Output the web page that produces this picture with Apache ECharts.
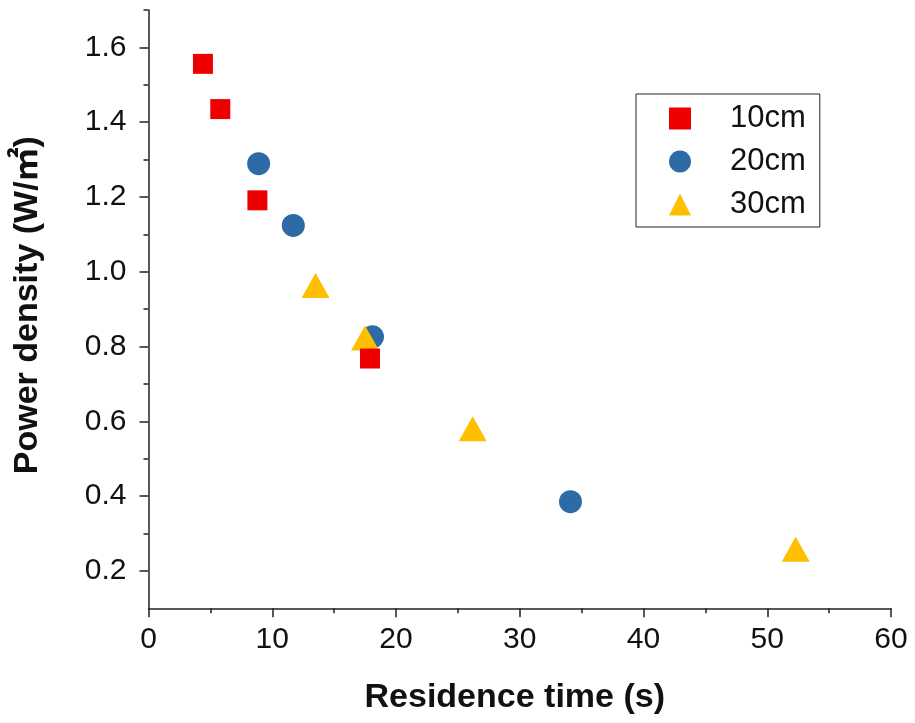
<!DOCTYPE html>
<html>
<head>
<meta charset="utf-8">
<script src="https://cdn.jsdelivr.net/npm/echarts@6/dist/echarts.min.js"></script>
<style>
  html, body { margin: 0; padding: 0; background: #fff; }
  #chart { width: 915px; height: 723px; }
</style>
</head>
<body>
<div id="chart"></div>
<script>
// Residence time (s) and power density (W/㎡) for three distances
const seriesNames = ['10cm', '20cm', '30cm'];

const time10 = [4.4, 5.8, 8.8, 17.9];
const power10 = [1.556, 1.435, 1.191, 0.768];

const time20 = [8.9, 11.7, 18.1, 34.1];
const power20 = [1.289, 1.124, 0.826, 0.385];

const time30 = [13.5, 17.5, 26.2, 52.3];
const power30 = [0.963, 0.823, 0.580, 0.258];

const xTicks = [0, 10, 20, 30, 40, 50, 60];
const yMajorTicks = [0.2, 0.4, 0.6, 0.8, 1.0, 1.2, 1.4, 1.6];
const yMinorTicks = [0.3, 0.5, 0.7, 0.9, 1.1, 1.3, 1.5, 1.7];

const colors = { red: '#ee0000', blue: '#2e6aa6', gold: '#ffbf00' };
const font = '"Liberation Sans", Arial, "Noto Sans CJK SC", sans-serif';
const axisColor = '#222';

function pairs(xs, ys) { return xs.map((x, i) => [x, ys[i]]); }

const chart = echarts.init(document.getElementById('chart'));
chart.setOption({
  backgroundColor: '#fff',
  animation: false,
  grid: { left: 148.5, right: 24, top: 10, bottom: 114.7 },
  legend: {
    orient: 'vertical',
    left: 636, top: 94,
    padding: [9, 14, 7, 33],
    itemGap: 12,
    itemWidth: 22, itemHeight: 22,
    borderColor: axisColor, borderWidth: 1,
    data: [
      { name: seriesNames[0], icon: 'rect' },
      { name: seriesNames[1], icon: 'circle' },
      { name: seriesNames[2], icon: 'triangle' }
    ],
    textStyle: { fontFamily: font, fontSize: 31, color: '#111', lineHeight: 30, padding: [0, 0, 0, 34] }
  },
  xAxis: {
    type: 'value',
    min: xTicks[0], max: xTicks[xTicks.length - 1], interval: 10,
    name: 'Residence time (s)',
    nameLocation: 'middle', nameGap: 72,
    nameTextStyle: { fontFamily: font, fontSize: 34, fontWeight: 'bold', color: '#111', padding: [0, 10, 0, 0] },
    axisLine: { show: true, lineStyle: { color: axisColor, width: 1.5 } },
    axisTick: { show: true, length: 9, lineStyle: { color: axisColor, width: 1.5 } },
    minorTick: { show: true, splitNumber: 2, length: 5, lineStyle: { color: axisColor, width: 1.5 } },
    splitLine: { show: false },
    axisLabel: { fontFamily: font, fontSize: 30, color: '#111', margin: 16 }
  },
  yAxis: [
    {
      type: 'value',
      min: 0.1, max: 1.7,
      name: 'Power density (W/㎡)',
      nameLocation: 'middle', nameGap: 104,
      nameTextStyle: { fontFamily: font, fontSize: 34, fontWeight: 'bold', color: '#111', padding: [0, 0, 0, 8] },
      axisLine: { show: true, onZero: false, lineStyle: { color: axisColor, width: 1.5 } },
      axisTick: { show: true, length: 9, customValues: yMajorTicks, lineStyle: { color: axisColor, width: 1.5 } },
      splitLine: { show: false },
      axisLabel: {
        fontFamily: font, fontSize: 30, color: '#111', margin: 22,
        customValues: yMajorTicks,
        formatter: v => v.toFixed(1)
      }
    },
    {
      // short ticks at the odd tenths
      type: 'value',
      position: 'left', offset: 0,
      min: 0.1, max: 1.7,
      axisLine: { show: false },
      axisTick: { show: true, length: 5, customValues: yMinorTicks, lineStyle: { color: axisColor, width: 1.5 } },
      axisLabel: { show: false },
      splitLine: { show: false }
    }
  ],
  series: [
    {
      name: seriesNames[1], type: 'scatter', z: 2,
      symbol: 'circle', symbolSize: 23,
      itemStyle: { color: colors.blue, opacity: 1 },
      data: pairs(time20, power20)
    },
    {
      name: seriesNames[2], type: 'scatter', z: 3,
      symbol: 'triangle', symbolSize: [28, 25],
      itemStyle: { color: colors.gold, opacity: 1 },
      data: pairs(time30, power30)
    },
    {
      name: seriesNames[0], type: 'scatter', z: 4,
      symbol: 'rect', symbolSize: 20,
      itemStyle: { color: colors.red, opacity: 1 },
      data: pairs(time10, power10)
    }
  ]
});
</script>
</body>
</html>
